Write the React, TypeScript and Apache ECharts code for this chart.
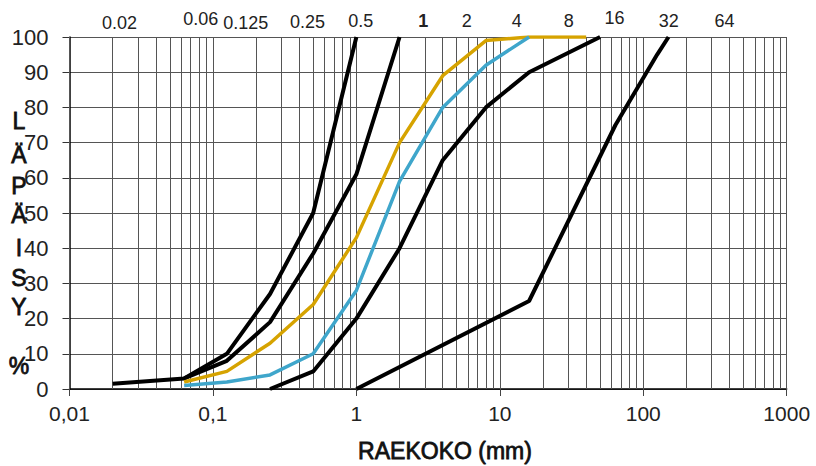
import React, { useEffect, useRef } from "react";
import * as echarts from "echarts";

// ---- data ----
const SIZES_A = [0.02, 0.063, 0.125, 0.25, 0.5, 1];
const PASS_A = [1.5, 3, 10, 27, 50, 100];

const SIZES_B = [0.063, 0.125, 0.25, 0.5, 1, 2];
const PASS_B = [3, 8, 19, 38.5, 61, 100];

const SIZES_GOLD = [0.063, 0.125, 0.25, 0.5, 1, 2, 4, 8, 16, 40];
const PASS_GOLD = [2, 5, 13, 24, 43, 70, 89, 99, 100, 100];

const SIZES_BLUE = [0.063, 0.125, 0.25, 0.5, 1, 2, 4, 8, 16];
const PASS_BLUE = [1, 2, 4, 10, 28, 59, 80, 92, 100];

const SIZES_C = [0.25, 0.5, 1, 2, 4, 8, 16, 50];
const PASS_C = [0, 5, 20, 40, 65, 80, 90, 100];

const SIZES_D = [1, 16, 64, 125, 150];
const PASS_D = [0, 25, 75, 95, 100];

const TOP_LABELS = ["0.02", "0.06", "0.125", "0.25", "0.5", "1", "2", "4", "8", "16", "32", "64"];
const Y_TITLE_LETTERS = ["L", "Ä", "P", "Ä", "I", "S", "Y", "%"];
const X_TITLE = "RAEKOKO (mm)";

const DECADES = [0.01, 0.1, 1, 10, 100];
const MULTIPLES = [1, 2, 3, 4, 5, 6, 7, 8, 9];

// ---- layout ----
const TOP_LABEL_X = [119.5, 200.8, 245.8, 307.5, 360.8, 423.3, 466.7, 516.7, 568.7, 614.5, 668.8, 724.5];
const TOP_LABEL_Y = [23, 19, 23, 22, 21, 21, 21, 21, 21, 18, 21, 21];
const Y_TITLE_Y = [121, 155, 186, 215, 248, 278, 307, 366];
const Y_TITLE_X = 19;

const BLACK = "#000000";
const GOLD = "#D6A300";
const BLUE = "#3FA6CB";
const GRID = "#555555";
const FONT = "'Liberation Sans', Arial, sans-serif";

const pairs = (xs: number[], ys: number[]) => xs.map((x, i) => [x, ys[i]]);

function fmt(v: number): string {
  const s = String(Number(v.toPrecision(3)));
  return s.replace(".", ",");
}

export default function App() {
  const ref = useRef<HTMLDivElement>(null);

  useEffect(() => {
    if (!ref.current) return;
    const chart = echarts.init(ref.current, undefined, { renderer: "svg" });

    const gridValues: number[] = [];
    DECADES.forEach((d) => MULTIPLES.forEach((m) => gridValues.push(Number((d * m).toPrecision(3)))));
    gridValues.push(1000);

    const curve = (name: string, xs: number[], ys: number[], color: string, width: number) => ({
      name,
      type: "line",
      data: pairs(xs, ys),
      symbol: "none",
      z: 5,
      lineStyle: { color, width },
      silent: true,
    });

    const graphic: any[] = [];
    TOP_LABELS.forEach((t, i) => {
      graphic.push({
        type: "text",
        x: TOP_LABEL_X[i],
        y: TOP_LABEL_Y[i],
        z: 50,
        style: {
          text: t,
          fill: "#222",
          font: `${t === "1" ? "bold " : ""}18px ${FONT}`,
          textAlign: "center",
          textVerticalAlign: "middle",
        },
      });
    });
    Y_TITLE_LETTERS.forEach((t, i) => {
      graphic.push({
        type: "text",
        x: Y_TITLE_X,
        y: Y_TITLE_Y[i],
        z: 50,
        style: {
          text: t,
          fill: "#111",
          stroke: "#111",
          lineWidth: 0.8,
          font: `23px ${FONT}`,
          textAlign: "center",
          textVerticalAlign: "middle",
        },
      });
    });
    graphic.push({
      type: "text",
      x: 445,
      y: 451,
      z: 50,
      style: {
        text: X_TITLE,
        fill: "#111",
        stroke: "#111",
        lineWidth: 0.8,
        font: `23px ${FONT}`,
        textAlign: "center",
        textVerticalAlign: "middle",
      },
    });

    chart.setOption({
      animation: false,
      backgroundColor: "#ffffff",
      grid: { left: 69.5, right: 29.3, top: 37, bottom: 77, containLabel: false },
      xAxis: {
        type: "log",
        logBase: 10,
        min: 0.01,
        max: 1000,
        axisLine: { show: true, lineStyle: { color: BLACK, width: 1.5 } },
        axisTick: { show: true, inside: false, length: 7, lineStyle: { color: "#444", width: 1 } },
        splitLine: { show: false },
        axisLabel: {
          margin: 14,
          fontSize: 21,
          fontFamily: FONT,
          color: "#222",
          formatter: (v: number) => fmt(v),
        },
      },
      yAxis: {
        type: "value",
        min: 0,
        max: 100,
        interval: 10,
        axisLine: { show: true, lineStyle: { color: BLACK, width: 1.5 } },
        axisTick: { show: true, inside: false, length: 7, lineStyle: { color: "#333", width: 1 } },
        splitLine: { show: true, lineStyle: { color: GRID, width: 1 } },
        axisLabel: { margin: 21, fontSize: 22, fontFamily: FONT, color: "#222" },
      },
      graphic,
      series: [
        {
          name: "grid",
          type: "line",
          data: [],
          z: 1,
          silent: true,
          markLine: {
            silent: true,
            symbol: ["none", "none"],
            label: { show: false },
            lineStyle: { color: GRID, width: 1, type: "solid" },
            data: gridValues.map((v) => ({ xAxis: v })),
          },
        },
        curve("A", SIZES_A, PASS_A, BLACK, 4),
        curve("B", SIZES_B, PASS_B, BLACK, 4),
        curve("C", SIZES_C, PASS_C, BLACK, 4),
        curve("D", SIZES_D, PASS_D, BLACK, 4),
        curve("Gold", SIZES_GOLD, PASS_GOLD, GOLD, 3.5),
        curve("Blue", SIZES_BLUE, PASS_BLUE, BLUE, 3.5),
      ],
    });

    return () => chart.dispose();
  }, []);

  return (
    <div
      ref={ref}
      style={{ position: "absolute", left: 0, top: 0, width: 816, height: 466, background: "#fff" }}
    />
  );
}
